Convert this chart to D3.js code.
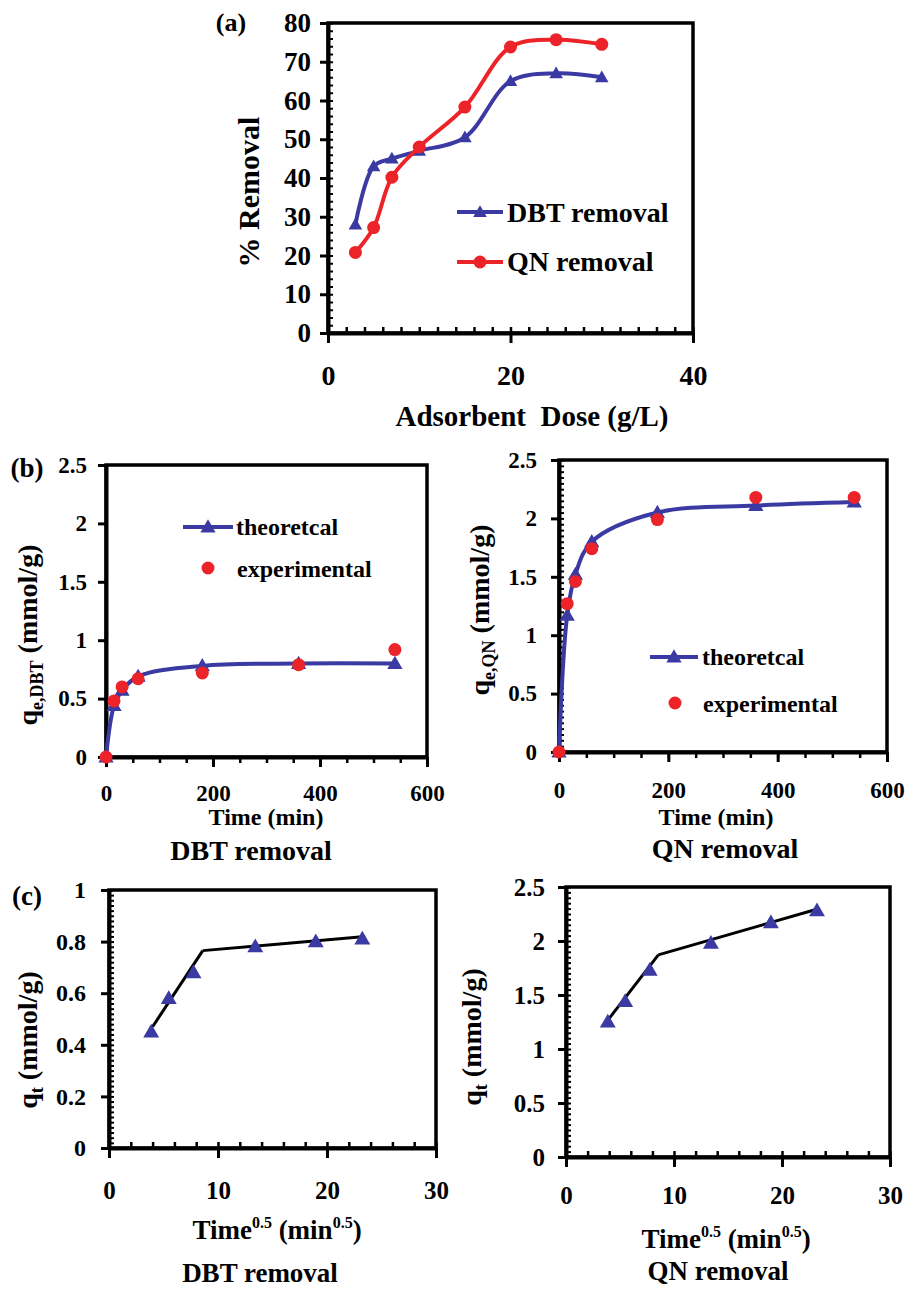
<!DOCTYPE html>
<html><head><meta charset="utf-8">
<script src="https://cdn.jsdelivr.net/npm/d3@7/dist/d3.min.js"></script>
<style>
html,body{margin:0;padding:0;background:#fff;}
svg text{font-family:"Liberation Serif","Times New Roman",serif;font-weight:bold;fill:#000;white-space:pre;}
</style></head>
<body>
<svg id="fig" width="907" height="1289"></svg>
<script>
// ---------- DATA ----------
const doseX      = [3, 5, 7, 10, 15, 20, 25, 30];
const dbtRemoval = [28, 43, 45, 47, 50.5, 65, 67, 66];
const qnRemoval  = [20.8, 27.2, 40.2, 48, 58.3, 73.8, 75.7, 74.5];

const timeMin = [0, 15, 30, 60, 180, 360, 540];
const dbtTheo = [0, 0.44, 0.57, 0.69, 0.78, 0.80, 0.80];
const dbtExp  = [0, 0.48, 0.60, 0.67, 0.72, 0.79, 0.92];
const qnTheo  = [0, 1.17, 1.52, 1.80, 2.05, 2.11, 2.14];
const qnExp   = [0, 1.27, 1.46, 1.74, 1.99, 2.18, 2.18];

const sqrtTime = [3.87, 5.48, 7.75, 13.42, 18.97, 23.24];
const dbtQt    = [0.45, 0.58, 0.68, 0.78, 0.80, 0.81];
const qnQt     = [1.25, 1.44, 1.73, 1.98, 2.17, 2.28];
const dbtFitX  = [4.0, 8.6, 23.5];
const dbtFitY  = [0.47, 0.765, 0.82];
const qnFitX   = [4.0, 8.55, 23.3];
const qnFitY   = [1.284, 1.872, 2.296];

const ticksDose  = [0, 20, 40];
const ticksRem   = [0, 10, 20, 30, 40, 50, 60, 70, 80];
const ticksTime  = [0, 200, 400, 600];
const ticksQ25   = [0, 0.5, 1, 1.5, 2, 2.5];
const ticksSqrt  = [0, 10, 20, 30];
const ticksQ1    = [0, 0.2, 0.4, 0.6, 0.8, 1];

const BLUE = "#3a3aa2", RED = "#ec2328";

// ---------- HELPERS ----------
const svg = d3.select("#fig");

function panel(o) {
  const x = d3.scaleLinear().domain(o.xd).range(o.xr);
  const y = d3.scaleLinear().domain(o.yd).range(o.yr);
  const g = svg.append("g");
  const [xa, xb] = o.xr, [yb, ya] = o.yr;
  g.append("g").attr("transform", `translate(0,${yb})`)
    .call(d3.axisBottom(x).tickValues(d3.range(o.xd[0], o.xd[1] + 1e-9, o.xMinor))
      .tickSize(o.xMinorOut ? 6 : -6).tickSizeOuter(0).tickFormat(""))
    .call(s => { s.select(".domain").remove(); s.selectAll("line").attr("stroke-width", 2.5); });
  if (o.yMinor) {
    g.append("g").attr("transform", `translate(${xa},0)`)
      .call(d3.axisLeft(y).tickValues(d3.range(o.yd[0], o.yd[1] + 1e-9, o.yMinor))
        .tickSize(-5).tickSizeOuter(0).tickFormat(""))
      .call(s => { s.select(".domain").remove(); s.selectAll("line").attr("stroke-width", 2); });
  }
  g.append("rect").attr("x", xa).attr("y", ya).attr("width", xb - xa).attr("height", yb - ya)
    .attr("fill", "none").attr("stroke", "#000").attr("stroke-width", 3.5);
  g.append("g").attr("transform", `translate(0,${yb})`)
    .call(d3.axisBottom(x).tickValues(o.xt).tickSize(10).tickSizeOuter(0).tickPadding(o.xPad))
    .call(s => {
      s.select(".domain").attr("stroke-width", 4);
      s.selectAll("line").attr("stroke-width", 3);
      s.selectAll("text").attr("font-size", o.fs).attr("font-family", null);
    });
  g.append("g").attr("transform", `translate(${xa},0)`)
    .call(d3.axisLeft(y).tickValues(o.yt).tickSize(8).tickSizeOuter(0).tickPadding(o.yPad)
      .tickFormat(d => String(+d.toFixed(2))))
    .call(s => {
      s.select(".domain").attr("stroke-width", 4);
      s.selectAll("line").attr("stroke-width", 3);
      s.selectAll("text").attr("font-size", o.fsY || o.fs).attr("font-family", null);
    });
  return { x, y, g };
}

function tri(size) { return d3.symbol().type(d3.symbolTriangle).size(size)(); }

function series(p, xs, ys, color, curve, width) {
  const pts = xs.map((d, i) => [d, ys[i]]);
  p.g.append("path").datum(pts)
    .attr("d", d3.line().x(d => p.x(d[0])).y(d => p.y(d[1])).curve(curve))
    .attr("fill", "none").attr("stroke", color).attr("stroke-width", width)
    .attr("stroke-linejoin", "round");
  return pts;
}
function triangles(p, xs, ys, size) {
  p.g.selectAll(null).data(xs.map((d, i) => [d, ys[i]])).enter().append("path")
    .attr("d", tri(size)).attr("fill", BLUE)
    .attr("transform", d => `translate(${p.x(d[0])},${p.y(d[1]) + 1})`);
}
function circles(p, xs, ys, r) {
  p.g.selectAll(null).data(xs.map((d, i) => [d, ys[i]])).enter().append("circle")
    .attr("cx", d => p.x(d[0])).attr("cy", d => p.y(d[1])).attr("r", r).attr("fill", RED);
}
function label(x, y, parts, fs, rotate, anchor) {
  const t = svg.append("text").attr("font-size", fs)
    .attr("text-anchor", anchor || "middle")
    .attr("transform", `translate(${x},${y})` + (rotate ? " rotate(-90)" : ""));
  parts.forEach(pt => {
    const s = t.append("tspan").text(pt.t);
    if (pt.fs) s.attr("font-size", pt.fs);
    if (pt.dy) s.attr("dy", pt.dy);
  });
  return t;
}

// ---------- PANEL (a) ----------
const pa = panel({ xd: [0, 40], xr: [328, 693], yd: [0, 80], yr: [333, 23],
  xt: ticksDose, yt: ticksRem, xMinor: 2, yMinor: 2, fs: 28, fsY: 27, xPad: 22, yPad: 9 });
series(pa, doseX, dbtRemoval, BLUE, d3.curveCatmullRom, 4);
triangles(pa, doseX, dbtRemoval, 80);
series(pa, doseX, qnRemoval, RED, d3.curveCatmullRom, 4);
circles(pa, doseX, qnRemoval, 6.5);
svg.append("line").attr("x1", 457).attr("x2", 503).attr("y1", 212).attr("y2", 212).attr("stroke", BLUE).attr("stroke-width", 4);
svg.append("path").attr("d", tri(80)).attr("fill", BLUE).attr("transform", "translate(480,213)");
label(507, 222, [{ t: "DBT removal" }], 28, false, "start");
svg.append("line").attr("x1", 457).attr("x2", 503).attr("y1", 262).attr("y2", 262).attr("stroke", RED).attr("stroke-width", 4);
svg.append("circle").attr("cx", 480).attr("cy", 262).attr("r", 6.5).attr("fill", RED);
label(507, 271, [{ t: "QN removal" }], 28, false, "start");
label(231, 31, [{ t: "(a)" }], 26);
label(259, 192, [{ t: "% Removal" }], 30, true);
label(532, 426, [{ t: "Adsorbent  Dose (g/L)" }], 29);

// ---------- PANEL (b) left ----------
const pb1 = panel({ xd: [0, 600], xr: [106, 427], yd: [0, 2.5], yr: [757, 465],
  xt: ticksTime, yt: ticksQ25, xMinor: 50, xMinorOut: true, yMinor: 0, fs: 23, xPad: 18, yPad: 11 });
series(pb1, timeMin, dbtTheo, BLUE, d3.curveCatmullRom, 4);
triangles(pb1, timeMin, dbtTheo, 100);
circles(pb1, timeMin, dbtExp, 6.5);
svg.append("line").attr("x1", 183).attr("x2", 233).attr("y1", 527).attr("y2", 527).attr("stroke", BLUE).attr("stroke-width", 4);
svg.append("path").attr("d", tri(100)).attr("fill", BLUE).attr("transform", "translate(208,528)");
label(236, 535, [{ t: "theoretcal" }], 24, false, "start");
svg.append("circle").attr("cx", 208).attr("cy", 568).attr("r", 6.5).attr("fill", RED);
label(237, 577, [{ t: "experimental" }], 24, false, "start");
label(27, 477, [{ t: "(b)" }], 27);
label(37, 635, [{ t: "q" }, { t: "e,DBT", fs: 18, dy: 6 }, { t: " (mmol/g)", dy: -6 }], 28, true);
label(266, 825, [{ t: "Time (min)" }], 24);
label(251, 860, [{ t: "DBT removal" }], 28);

// ---------- PANEL (b) right ----------
const pb2 = panel({ xd: [0, 600], xr: [559, 887], yd: [0, 2.5], yr: [752, 460],
  xt: ticksTime, yt: ticksQ25, xMinor: 50, xMinorOut: true, yMinor: 0.05, fs: 23, xPad: 20, yPad: 14 });
series(pb2, timeMin, qnTheo, BLUE, d3.curveCatmullRom, 4);
triangles(pb2, timeMin, qnTheo, 100);
circles(pb2, timeMin, qnExp, 6.5);
svg.append("line").attr("x1", 650).attr("x2", 698).attr("y1", 657).attr("y2", 657).attr("stroke", BLUE).attr("stroke-width", 4);
svg.append("path").attr("d", tri(100)).attr("fill", BLUE).attr("transform", "translate(674,658)");
label(702, 665, [{ t: "theoretcal" }], 24, false, "start");
svg.append("circle").attr("cx", 675).attr("cy", 703).attr("r", 6.5).attr("fill", RED);
label(703, 712, [{ t: "experimental" }], 24, false, "start");
label(489, 610, [{ t: "q" }, { t: "e,QN", fs: 18, dy: 6 }, { t: " (mmol/g)", dy: -6 }], 28, true);
label(716, 825, [{ t: "Time (min)" }], 24);
label(725, 858, [{ t: "QN removal" }], 28);

// ---------- PANEL (c) left ----------
const pc1 = panel({ xd: [0, 30], xr: [109, 436], yd: [0, 1], yr: [1148, 890],
  xt: ticksSqrt, yt: ticksQ1, xMinor: 2, yMinor: 0.02, fs: 25, fsY: 24, xPad: 23, yPad: 15 });
series(pc1, dbtFitX.slice(0, 2), dbtFitY.slice(0, 2), "#000", d3.curveLinear, 3);
series(pc1, dbtFitX.slice(1), dbtFitY.slice(1), "#000", d3.curveLinear, 3);
triangles(pc1, sqrtTime, dbtQt, 110);
label(27, 905, [{ t: "(c)" }], 27);
label(37, 1040, [{ t: "q" }, { t: "t", fs: 18, dy: 6 }, { t: " (mmol/g)", dy: -6 }], 28, true);
label(277, 1239, [{ t: "Time" }, { t: "0.5", fs: 16, dy: -11 }, { t: " (min", dy: 11 }, { t: "0.5", fs: 16, dy: -11 }, { t: ")", dy: 11 }], 27);
label(260, 1282, [{ t: "DBT removal" }], 27);

// ---------- PANEL (c) right ----------
const pc2 = panel({ xd: [0, 30], xr: [566, 890], yd: [0, 2.5], yr: [1157, 887],
  xt: ticksSqrt, yt: ticksQ25, xMinor: 2, yMinor: 0.05, fs: 25, fsY: 25, xPad: 19, yPad: 13 });
series(pc2, qnFitX.slice(0, 2), qnFitY.slice(0, 2), "#000", d3.curveLinear, 3);
series(pc2, qnFitX.slice(1), qnFitY.slice(1), "#000", d3.curveLinear, 3);
triangles(pc2, sqrtTime, qnQt, 110);
label(481, 1037, [{ t: "q" }, { t: "t", fs: 18, dy: 6 }, { t: " (mmol/g)", dy: -6 }], 28, true);
label(726, 1248, [{ t: "Time" }, { t: "0.5", fs: 16, dy: -11 }, { t: " (min", dy: 11 }, { t: "0.5", fs: 16, dy: -11 }, { t: ")", dy: 11 }], 27);
label(718, 1280, [{ t: "QN removal" }], 27);
</script>
</body></html>
